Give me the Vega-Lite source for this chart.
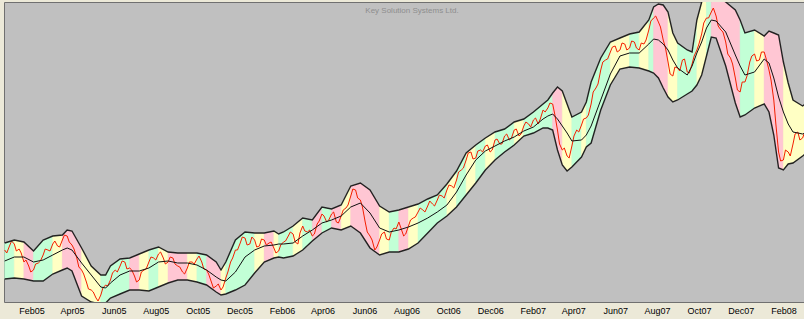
{
"$schema": "https://vega.github.io/schema/vega-lite/v6.json",
"width": 800, "height": 300,
"autosize": {"type": "none"},
"padding": {"left": 4, "top": 2, "right": 0, "bottom": 17},
"background": "#ECE9D8",
"title": {"text": "Key Solution Systems Ltd.", "offset": -13, "fontSize": 8, "font": "Liberation Sans", "fontWeight": "normal", "color": "#8E8E8E", "dx": 8},
"config": {"view": {"fill": "#C0C0C0", "stroke": "#707070", "strokeWidth": 1}},
"datasets": {
"band": [
{"d":"2004-12-24","h":59,"m":41,"l":23,"s":0,"c":"G"},
{"d":"2005-01-07","h":62,"m":45,"l":24,"s":0,"c":"G"},
{"d":"2005-01-07","h":62,"m":45,"l":24,"s":1,"c":"Y"},
{"d":"2005-01-21","h":60,"m":45,"l":23,"s":1,"c":"Y"},
{"d":"2005-01-21","h":60,"m":45,"l":23,"s":2,"c":"P"},
{"d":"2005-02-04","h":51,"m":40,"l":21,"s":2,"c":"P"},
{"d":"2005-02-04","h":51,"m":40,"l":21,"s":3,"c":"G"},
{"d":"2005-02-18","h":62,"m":42,"l":21,"s":3,"c":"G"},
{"d":"2005-03-04","h":66,"m":47,"l":28,"s":3,"c":"G"},
{"d":"2005-03-04","h":66,"m":47,"l":28,"s":4,"c":"Y"},
{"d":"2005-03-18","h":67,"m":52,"l":32,"s":4,"c":"Y"},
{"d":"2005-03-18","h":67,"m":52,"l":32,"s":5,"c":"P"},
{"d":"2005-03-25","h":72,"m":54,"l":34,"s":5,"c":"P"},
{"d":"2005-04-01","h":71,"m":52,"l":31,"s":5,"c":"P"},
{"d":"2005-04-15","h":54,"m":39,"l":6,"s":5,"c":"P"},
{"d":"2005-04-15","h":54,"m":39,"l":6,"s":6,"c":"Y"},
{"d":"2005-04-29","h":36,"m":27,"l":0,"s":6,"c":"Y"},
{"d":"2005-05-13","h":27,"m":15,"l":-2,"s":6,"c":"Y"},
{"d":"2005-05-13","h":27,"m":15,"l":-2,"s":7,"c":"G"},
{"d":"2005-05-20","h":27,"m":14,"l":-1,"s":7,"c":"G"},
{"d":"2005-05-27","h":36,"m":19,"l":4,"s":7,"c":"G"},
{"d":"2005-06-10","h":43,"m":27,"l":8,"s":7,"c":"G"},
{"d":"2005-06-24","h":44,"m":31,"l":12,"s":7,"c":"G"},
{"d":"2005-06-24","h":44,"m":31,"l":12,"s":8,"c":"P"},
{"d":"2005-07-08","h":48,"m":31,"l":12,"s":8,"c":"P"},
{"d":"2005-07-08","h":48,"m":31,"l":12,"s":9,"c":"Y"},
{"d":"2005-07-22","h":52,"m":34,"l":11,"s":9,"c":"Y"},
{"d":"2005-07-22","h":52,"m":34,"l":11,"s":10,"c":"G"},
{"d":"2005-08-05","h":55,"m":40,"l":15,"s":10,"c":"G"},
{"d":"2005-08-05","h":55,"m":40,"l":15,"s":11,"c":"Y"},
{"d":"2005-08-19","h":50,"m":41,"l":19,"s":11,"c":"Y"},
{"d":"2005-08-19","h":50,"m":41,"l":19,"s":12,"c":"P"},
{"d":"2005-09-02","h":49,"m":39,"l":22,"s":12,"c":"P"},
{"d":"2005-09-16","h":49,"m":39,"l":22,"s":12,"c":"P"},
{"d":"2005-09-16","h":49,"m":39,"l":22,"s":13,"c":"Y"},
{"d":"2005-09-30","h":49,"m":37,"l":20,"s":13,"c":"Y"},
{"d":"2005-09-30","h":49,"m":37,"l":20,"s":14,"c":"G"},
{"d":"2005-10-14","h":47,"m":32,"l":17,"s":14,"c":"G"},
{"d":"2005-10-14","h":47,"m":32,"l":17,"s":15,"c":"P"},
{"d":"2005-10-28","h":40,"m":25,"l":10,"s":15,"c":"P"},
{"d":"2005-11-04","h":32,"m":22,"l":7,"s":15,"c":"P"},
{"d":"2005-11-04","h":32,"m":22,"l":7,"s":16,"c":"Y"},
{"d":"2005-11-11","h":40,"m":21,"l":8,"s":16,"c":"Y"},
{"d":"2005-11-11","h":40,"m":21,"l":8,"s":17,"c":"G"},
{"d":"2005-11-25","h":62,"m":30,"l":12,"s":17,"c":"G"},
{"d":"2005-12-09","h":70,"m":45,"l":17,"s":17,"c":"G"},
{"d":"2005-12-23","h":69,"m":52,"l":29,"s":17,"c":"G"},
{"d":"2005-12-23","h":69,"m":52,"l":29,"s":18,"c":"Y"},
{"d":"2006-01-06","h":69,"m":56,"l":40,"s":18,"c":"Y"},
{"d":"2006-01-06","h":69,"m":56,"l":40,"s":19,"c":"P"},
{"d":"2006-01-20","h":71,"m":57,"l":44,"s":19,"c":"P"},
{"d":"2006-01-20","h":71,"m":57,"l":44,"s":20,"c":"Y"},
{"d":"2006-01-27","h":68,"m":58,"l":45,"s":20,"c":"Y"},
{"d":"2006-01-27","h":68,"m":58,"l":45,"s":21,"c":"G"},
{"d":"2006-02-03","h":70,"m":58,"l":44,"s":21,"c":"G"},
{"d":"2006-02-17","h":76,"m":59,"l":46,"s":21,"c":"G"},
{"d":"2006-02-17","h":76,"m":59,"l":46,"s":22,"c":"Y"},
{"d":"2006-03-03","h":84,"m":66,"l":52,"s":22,"c":"Y"},
{"d":"2006-03-03","h":84,"m":66,"l":52,"s":23,"c":"G"},
{"d":"2006-03-17","h":82,"m":72,"l":61,"s":23,"c":"G"},
{"d":"2006-03-17","h":82,"m":72,"l":61,"s":24,"c":"P"},
{"d":"2006-03-31","h":95,"m":79,"l":69,"s":24,"c":"P"},
{"d":"2006-03-31","h":95,"m":79,"l":69,"s":25,"c":"G"},
{"d":"2006-04-14","h":93,"m":82,"l":74,"s":25,"c":"G"},
{"d":"2006-04-14","h":93,"m":82,"l":74,"s":26,"c":"P"},
{"d":"2006-04-28","h":97,"m":86,"l":72,"s":26,"c":"P"},
{"d":"2006-04-28","h":97,"m":86,"l":72,"s":27,"c":"Y"},
{"d":"2006-05-12","h":116,"m":95,"l":76,"s":27,"c":"Y"},
{"d":"2006-05-12","h":116,"m":95,"l":76,"s":28,"c":"P"},
{"d":"2006-05-26","h":119,"m":99,"l":69,"s":28,"c":"P"},
{"d":"2006-06-09","h":112,"m":89,"l":54,"s":28,"c":"P"},
{"d":"2006-06-23","h":96,"m":74,"l":47,"s":28,"c":"P"},
{"d":"2006-06-23","h":96,"m":74,"l":47,"s":29,"c":"Y"},
{"d":"2006-07-07","h":90,"m":70,"l":50,"s":29,"c":"Y"},
{"d":"2006-07-07","h":90,"m":70,"l":50,"s":30,"c":"G"},
{"d":"2006-07-21","h":92,"m":72,"l":50,"s":30,"c":"G"},
{"d":"2006-07-21","h":92,"m":72,"l":50,"s":31,"c":"P"},
{"d":"2006-08-04","h":95,"m":75,"l":53,"s":31,"c":"P"},
{"d":"2006-08-04","h":95,"m":75,"l":53,"s":32,"c":"Y"},
{"d":"2006-08-18","h":98,"m":79,"l":59,"s":32,"c":"Y"},
{"d":"2006-08-18","h":98,"m":79,"l":59,"s":33,"c":"G"},
{"d":"2006-09-01","h":103,"m":84,"l":69,"s":33,"c":"G"},
{"d":"2006-09-15","h":107,"m":90,"l":79,"s":33,"c":"G"},
{"d":"2006-09-29","h":118,"m":97,"l":86,"s":33,"c":"G"},
{"d":"2006-09-29","h":118,"m":97,"l":86,"s":34,"c":"Y"},
{"d":"2006-10-13","h":131,"m":110,"l":95,"s":34,"c":"Y"},
{"d":"2006-10-13","h":131,"m":110,"l":95,"s":35,"c":"G"},
{"d":"2006-10-27","h":149,"m":127,"l":107,"s":35,"c":"G"},
{"d":"2006-10-27","h":149,"m":127,"l":107,"s":36,"c":"Y"},
{"d":"2006-11-10","h":157,"m":142,"l":119,"s":36,"c":"Y"},
{"d":"2006-11-10","h":157,"m":142,"l":119,"s":37,"c":"G"},
{"d":"2006-11-24","h":164,"m":151,"l":132,"s":37,"c":"G"},
{"d":"2006-11-24","h":164,"m":151,"l":132,"s":38,"c":"Y"},
{"d":"2006-12-08","h":170,"m":156,"l":142,"s":38,"c":"Y"},
{"d":"2006-12-08","h":170,"m":156,"l":142,"s":39,"c":"G"},
{"d":"2006-12-22","h":173,"m":161,"l":150,"s":39,"c":"G"},
{"d":"2007-01-05","h":180,"m":165,"l":157,"s":39,"c":"G"},
{"d":"2007-01-05","h":180,"m":165,"l":157,"s":40,"c":"Y"},
{"d":"2007-01-19","h":183,"m":171,"l":166,"s":40,"c":"Y"},
{"d":"2007-01-19","h":183,"m":171,"l":166,"s":41,"c":"G"},
{"d":"2007-02-02","h":190,"m":175,"l":169,"s":41,"c":"G"},
{"d":"2007-02-16","h":198,"m":183,"l":174,"s":41,"c":"G"},
{"d":"2007-02-23","h":202,"m":186,"l":174,"s":41,"c":"G"},
{"d":"2007-03-02","h":209,"m":188,"l":172,"s":41,"c":"G"},
{"d":"2007-03-02","h":209,"m":188,"l":172,"s":42,"c":"P"},
{"d":"2007-03-09","h":215,"m":183,"l":152,"s":42,"c":"P"},
{"d":"2007-03-16","h":211,"m":176,"l":137,"s":42,"c":"P"},
{"d":"2007-03-16","h":211,"m":176,"l":137,"s":43,"c":"Y"},
{"d":"2007-03-23","h":198,"m":169,"l":131,"s":43,"c":"Y"},
{"d":"2007-03-30","h":185,"m":161,"l":135,"s":43,"c":"Y"},
{"d":"2007-03-30","h":185,"m":161,"l":135,"s":44,"c":"G"},
{"d":"2007-04-13","h":190,"m":162,"l":145,"s":44,"c":"G"},
{"d":"2007-04-13","h":190,"m":162,"l":145,"s":45,"c":"Y"},
{"d":"2007-04-20","h":200,"m":167,"l":155,"s":45,"c":"Y"},
{"d":"2007-04-20","h":200,"m":167,"l":155,"s":46,"c":"G"},
{"d":"2007-04-27","h":220,"m":176,"l":159,"s":46,"c":"G"},
{"d":"2007-05-11","h":244,"m":202,"l":192,"s":46,"c":"G"},
{"d":"2007-05-25","h":260,"m":228,"l":217,"s":46,"c":"G"},
{"d":"2007-05-25","h":260,"m":228,"l":217,"s":47,"c":"Y"},
{"d":"2007-06-08","h":264,"m":246,"l":233,"s":47,"c":"Y"},
{"d":"2007-06-22","h":268,"m":249,"l":235,"s":47,"c":"Y"},
{"d":"2007-06-22","h":268,"m":249,"l":235,"s":48,"c":"G"},
{"d":"2007-07-06","h":270,"m":249,"l":234,"s":48,"c":"G"},
{"d":"2007-07-06","h":270,"m":249,"l":234,"s":49,"c":"Y"},
{"d":"2007-07-20","h":282,"m":258,"l":231,"s":49,"c":"Y"},
{"d":"2007-07-20","h":282,"m":258,"l":231,"s":50,"c":"G"},
{"d":"2007-07-27","h":295,"m":263,"l":229,"s":50,"c":"G"},
{"d":"2007-07-27","h":295,"m":263,"l":229,"s":51,"c":"P"},
{"d":"2007-08-03","h":298,"m":262,"l":224,"s":51,"c":"P"},
{"d":"2007-08-10","h":297,"m":258,"l":214,"s":51,"c":"P"},
{"d":"2007-08-17","h":290,"m":252,"l":205,"s":51,"c":"P"},
{"d":"2007-08-17","h":290,"m":252,"l":205,"s":52,"c":"Y"},
{"d":"2007-08-24","h":269,"m":242,"l":200,"s":52,"c":"Y"},
{"d":"2007-08-31","h":259,"m":234,"l":202,"s":52,"c":"Y"},
{"d":"2007-08-31","h":259,"m":234,"l":202,"s":53,"c":"G"},
{"d":"2007-09-14","h":252,"m":227,"l":208,"s":53,"c":"G"},
{"d":"2007-09-21","h":250,"m":236,"l":211,"s":53,"c":"G"},
{"d":"2007-09-28","h":282,"m":249,"l":217,"s":53,"c":"G"},
{"d":"2007-09-28","h":282,"m":249,"l":217,"s":54,"c":"Y"},
{"d":"2007-10-05","h":300,"m":260,"l":227,"s":54,"c":"Y"},
{"d":"2007-10-12","h":306,"m":274,"l":246,"s":54,"c":"Y"},
{"d":"2007-10-12","h":306,"m":274,"l":246,"s":55,"c":"G"},
{"d":"2007-10-19","h":307,"m":282,"l":265,"s":55,"c":"G"},
{"d":"2007-10-19","h":307,"m":282,"l":265,"s":56,"c":"P"},
{"d":"2007-10-26","h":306,"m":281,"l":264,"s":56,"c":"P"},
{"d":"2007-11-09","h":300,"m":270,"l":236,"s":56,"c":"P"},
{"d":"2007-11-23","h":292,"m":247,"l":199,"s":56,"c":"P"},
{"d":"2007-11-30","h":282,"m":236,"l":185,"s":56,"c":"P"},
{"d":"2007-11-30","h":282,"m":236,"l":185,"s":57,"c":"G"},
{"d":"2007-12-07","h":269,"m":227,"l":187,"s":57,"c":"G"},
{"d":"2007-12-21","h":272,"m":230,"l":194,"s":57,"c":"G"},
{"d":"2007-12-21","h":272,"m":230,"l":194,"s":58,"c":"Y"},
{"d":"2008-01-04","h":266,"m":243,"l":198,"s":58,"c":"Y"},
{"d":"2008-01-04","h":266,"m":243,"l":198,"s":59,"c":"P"},
{"d":"2008-01-11","h":271,"m":239,"l":190,"s":59,"c":"P"},
{"d":"2008-01-18","h":269,"m":224,"l":167,"s":59,"c":"P"},
{"d":"2008-01-25","h":267,"m":205,"l":134,"s":59,"c":"P"},
{"d":"2008-02-01","h":240,"m":190,"l":132,"s":59,"c":"P"},
{"d":"2008-02-01","h":240,"m":190,"l":132,"s":60,"c":"Y"},
{"d":"2008-02-08","h":219,"m":178,"l":138,"s":60,"c":"Y"},
{"d":"2008-02-15","h":202,"m":170,"l":139,"s":60,"c":"Y"},
{"d":"2008-02-29","h":196,"m":168,"l":146,"s":60,"c":"Y"},
{"d":"2008-03-07","h":200,"m":170,"l":150,"s":60,"c":"Y"}
],
"px": [
{"d":"2004-12-24","p":52},{"d":"2004-12-31","p":56},{"d":"2005-01-07","p":58},{"d":"2005-01-14","p":53},
{"d":"2005-01-21","p":40},{"d":"2005-01-28","p":36},{"d":"2005-02-04","p":32},{"d":"2005-02-11","p":39},
{"d":"2005-02-18","p":47},{"d":"2005-02-25","p":52},{"d":"2005-03-04","p":58},{"d":"2005-03-11","p":56},
{"d":"2005-03-18","p":62},{"d":"2005-03-25","p":66},{"d":"2005-04-01","p":57},{"d":"2005-04-08","p":44},
{"d":"2005-04-15","p":32},{"d":"2005-04-22","p":20},{"d":"2005-04-29","p":12},{"d":"2005-05-06","p":4},
{"d":"2005-05-13","p":7},{"d":"2005-05-20","p":17},{"d":"2005-05-27","p":22},{"d":"2005-06-03","p":32},
{"d":"2005-06-10","p":36},{"d":"2005-06-17","p":40},{"d":"2005-06-24","p":34},{"d":"2005-07-01","p":26},
{"d":"2005-07-08","p":22},{"d":"2005-07-15","p":32},{"d":"2005-07-22","p":40},{"d":"2005-07-29","p":44},
{"d":"2005-08-05","p":48},{"d":"2005-08-12","p":44},{"d":"2005-08-19","p":40},{"d":"2005-08-26","p":44},
{"d":"2005-09-02","p":36},{"d":"2005-09-09","p":30},{"d":"2005-09-16","p":34},{"d":"2005-09-23","p":40},
{"d":"2005-09-30","p":43},{"d":"2005-10-07","p":40},{"d":"2005-10-14","p":32},{"d":"2005-10-21","p":20},
{"d":"2005-10-28","p":16},{"d":"2005-11-04","p":12},{"d":"2005-11-11","p":24},{"d":"2005-11-18","p":40},
{"d":"2005-11-25","p":52},{"d":"2005-12-02","p":59},{"d":"2005-12-09","p":64},{"d":"2005-12-16","p":58},
{"d":"2005-12-23","p":62},{"d":"2005-12-30","p":56},{"d":"2006-01-06","p":62},{"d":"2006-01-13","p":59},
{"d":"2006-01-20","p":54},{"d":"2006-01-27","p":51},{"d":"2006-02-03","p":60},{"d":"2006-02-10","p":66},
{"d":"2006-02-17","p":68},{"d":"2006-02-24","p":58},{"d":"2006-03-03","p":76},{"d":"2006-03-10","p":70},
{"d":"2006-03-17","p":66},{"d":"2006-03-24","p":78},{"d":"2006-03-31","p":88},{"d":"2006-04-07","p":80},
{"d":"2006-04-14","p":88},{"d":"2006-04-21","p":80},{"d":"2006-04-28","p":86},{"d":"2006-05-05","p":94},
{"d":"2006-05-12","p":106},{"d":"2006-05-19","p":112},{"d":"2006-05-26","p":102},{"d":"2006-06-02","p":80},
{"d":"2006-06-09","p":66},{"d":"2006-06-16","p":52},{"d":"2006-06-23","p":62},{"d":"2006-06-30","p":70},
{"d":"2006-07-07","p":62},{"d":"2006-07-14","p":74},{"d":"2006-07-21","p":80},{"d":"2006-07-28","p":66},
{"d":"2006-08-04","p":76},{"d":"2006-08-11","p":84},{"d":"2006-08-18","p":90},{"d":"2006-08-25","p":92},
{"d":"2006-09-01","p":96},{"d":"2006-09-08","p":98},{"d":"2006-09-15","p":102},{"d":"2006-09-22","p":106},
{"d":"2006-09-29","p":112},{"d":"2006-10-06","p":116},{"d":"2006-10-13","p":122},{"d":"2006-10-20","p":132},
{"d":"2006-10-27","p":142},{"d":"2006-11-03","p":150},{"d":"2006-11-10","p":144},{"d":"2006-11-17","p":152},
{"d":"2006-11-24","p":156},{"d":"2006-12-01","p":150},{"d":"2006-12-08","p":162},{"d":"2006-12-15","p":158},
{"d":"2006-12-22","p":166},{"d":"2006-12-29","p":162},{"d":"2007-01-05","p":172},{"d":"2007-01-12","p":166},
{"d":"2007-01-19","p":176},{"d":"2007-01-26","p":178},{"d":"2007-02-02","p":182},{"d":"2007-02-09","p":178},
{"d":"2007-02-16","p":192},{"d":"2007-02-23","p":194},{"d":"2007-03-02","p":198},{"d":"2007-03-09","p":172},
{"d":"2007-03-16","p":152},{"d":"2007-03-23","p":146},{"d":"2007-03-30","p":156},{"d":"2007-04-06","p":172},
{"d":"2007-04-13","p":177},{"d":"2007-04-20","p":184},{"d":"2007-04-27","p":198},{"d":"2007-05-04","p":214},
{"d":"2007-05-11","p":232},{"d":"2007-05-18","p":242},{"d":"2007-05-25","p":250},{"d":"2007-06-01","p":256},
{"d":"2007-06-08","p":252},{"d":"2007-06-15","p":258},{"d":"2007-06-22","p":254},{"d":"2007-06-29","p":260},
{"d":"2007-07-06","p":252},{"d":"2007-07-13","p":258},{"d":"2007-07-20","p":272},{"d":"2007-07-27","p":284},
{"d":"2007-08-03","p":280},{"d":"2007-08-10","p":262},{"d":"2007-08-17","p":240},{"d":"2007-08-24","p":226},
{"d":"2007-08-31","p":234},{"d":"2007-09-07","p":242},{"d":"2007-09-14","p":230},{"d":"2007-09-21","p":238},
{"d":"2007-09-28","p":252},{"d":"2007-10-05","p":268},{"d":"2007-10-12","p":284},{"d":"2007-10-19","p":290},
{"d":"2007-10-26","p":286},{"d":"2007-11-02","p":272},{"d":"2007-11-09","p":260},{"d":"2007-11-16","p":244},
{"d":"2007-11-23","p":224},{"d":"2007-11-30","p":210},{"d":"2007-12-07","p":220},{"d":"2007-12-14","p":240},
{"d":"2007-12-21","p":248},{"d":"2007-12-28","p":242},{"d":"2008-01-04","p":250},{"d":"2008-01-11","p":232},
{"d":"2008-01-18","p":202},{"d":"2008-01-25","p":150},{"d":"2008-02-01","p":142},{"d":"2008-02-08","p":150},
{"d":"2008-02-15","p":158},{"d":"2008-02-22","p":170},{"d":"2008-02-29","p":164},{"d":"2008-03-07","p":168},
{"d":"2004-12-27","p":49},{"d":"2005-01-03","p":61},{"d":"2005-01-10","p":51},{"d":"2005-01-17","p":49},
{"d":"2005-01-24","p":42},{"d":"2005-01-31","p":30},{"d":"2005-02-07","p":38},{"d":"2005-02-14","p":41},
{"d":"2005-02-21","p":53},{"d":"2005-02-28","p":51},{"d":"2005-03-07","p":61},{"d":"2005-03-14","p":55},
{"d":"2005-03-21","p":67},{"d":"2005-03-28","p":60},{"d":"2005-04-04","p":53},{"d":"2005-04-11","p":35},
{"d":"2005-04-18","p":28},{"d":"2005-04-25","p":13},{"d":"2005-05-02","p":10},{"d":"2005-05-09","p":1},
{"d":"2005-05-16","p":14},{"d":"2005-05-23","p":16},{"d":"2005-05-30","p":29},{"d":"2005-06-06","p":30},
{"d":"2005-06-13","p":41},{"d":"2005-06-20","p":33},{"d":"2005-06-27","p":32},{"d":"2005-07-04","p":20},
{"d":"2005-07-11","p":30},{"d":"2005-07-18","p":33},{"d":"2005-07-25","p":45},{"d":"2005-08-01","p":42},
{"d":"2005-08-08","p":50},{"d":"2005-08-15","p":38},{"d":"2005-08-22","p":45},{"d":"2005-08-29","p":38},
{"d":"2005-09-05","p":35},{"d":"2005-09-12","p":28},{"d":"2005-09-19","p":40},{"d":"2005-09-26","p":38},
{"d":"2005-10-03","p":46},{"d":"2005-10-10","p":33},{"d":"2005-10-17","p":28},{"d":"2005-10-24","p":14},
{"d":"2005-10-31","p":18},{"d":"2005-11-07","p":15},{"d":"2005-11-14","p":30},{"d":"2005-11-21","p":44},
{"d":"2005-11-28","p":52},{"d":"2005-12-05","p":65},{"d":"2005-12-12","p":57},{"d":"2005-12-19","p":65},
{"d":"2005-12-26","p":55},{"d":"2006-01-02","p":63},{"d":"2006-01-09","p":57},{"d":"2006-01-16","p":60},
{"d":"2006-01-23","p":49},{"d":"2006-01-30","p":57},{"d":"2006-02-06","p":61},{"d":"2006-02-13","p":70},
{"d":"2006-02-20","p":60},{"d":"2006-02-27","p":69},{"d":"2006-03-06","p":71},{"d":"2006-03-13","p":72},
{"d":"2006-03-20","p":68},{"d":"2006-03-27","p":81},{"d":"2006-04-03","p":86},{"d":"2006-04-10","p":82},
{"d":"2006-04-17","p":90},{"d":"2006-04-24","p":79},{"d":"2006-05-01","p":92},{"d":"2006-05-08","p":97},
{"d":"2006-05-15","p":113},{"d":"2006-05-22","p":104},{"d":"2006-05-29","p":95},{"d":"2006-06-05","p":70},
{"d":"2006-06-12","p":62},{"d":"2006-06-19","p":55},{"d":"2006-06-26","p":68},{"d":"2006-07-03","p":63},
{"d":"2006-07-10","p":70},{"d":"2006-07-17","p":73},{"d":"2006-07-24","p":74},{"d":"2006-07-31","p":68},
{"d":"2006-08-07","p":82},{"d":"2006-08-14","p":85},{"d":"2006-08-21","p":94},{"d":"2006-08-28","p":90},
{"d":"2006-09-04","p":101},{"d":"2006-09-11","p":96},{"d":"2006-09-18","p":107},{"d":"2006-09-25","p":104},
{"d":"2006-10-02","p":117},{"d":"2006-10-09","p":114},{"d":"2006-10-16","p":130},{"d":"2006-10-23","p":134},
{"d":"2006-10-30","p":149},{"d":"2006-11-06","p":143},{"d":"2006-11-13","p":151},{"d":"2006-11-20","p":150},
{"d":"2006-11-27","p":157},{"d":"2006-12-04","p":152},{"d":"2006-12-11","p":163},{"d":"2006-12-18","p":158},
{"d":"2006-12-25","p":168},{"d":"2007-01-01","p":164},{"d":"2007-01-08","p":173},{"d":"2007-01-15","p":168},
{"d":"2007-01-22","p":180},{"d":"2007-01-29","p":175},{"d":"2007-02-05","p":184},{"d":"2007-02-12","p":183},
{"d":"2007-02-19","p":190},{"d":"2007-02-26","p":199},{"d":"2007-03-05","p":188},{"d":"2007-03-12","p":158},
{"d":"2007-03-19","p":154},{"d":"2007-03-26","p":144},{"d":"2007-04-02","p":166},{"d":"2007-04-09","p":170},
{"d":"2007-04-16","p":183},{"d":"2007-04-23","p":187},{"d":"2007-04-30","p":210},{"d":"2007-05-07","p":218},
{"d":"2007-05-14","p":240},{"d":"2007-05-21","p":243},{"d":"2007-05-28","p":255},{"d":"2007-06-04","p":250},
{"d":"2007-06-11","p":259},{"d":"2007-06-18","p":252},{"d":"2007-06-25","p":261},{"d":"2007-07-02","p":254},
{"d":"2007-07-09","p":259},{"d":"2007-07-16","p":262},{"d":"2007-07-23","p":281},{"d":"2007-07-30","p":286},
{"d":"2007-08-06","p":275},{"d":"2007-08-13","p":255},{"d":"2007-08-20","p":228},{"d":"2007-08-27","p":235},
{"d":"2007-09-03","p":231},{"d":"2007-09-10","p":243},{"d":"2007-09-17","p":229},{"d":"2007-09-24","p":246},
{"d":"2007-10-01","p":258},{"d":"2007-10-08","p":279},{"d":"2007-10-15","p":284},{"d":"2007-10-22","p":294},
{"d":"2007-10-29","p":276},{"d":"2007-11-05","p":270},{"d":"2007-11-12","p":248},{"d":"2007-11-19","p":238},
{"d":"2007-11-26","p":212},{"d":"2007-12-03","p":220},{"d":"2007-12-10","p":226},{"d":"2007-12-17","p":246},
{"d":"2007-12-24","p":241},{"d":"2007-12-31","p":250},{"d":"2008-01-07","p":243},{"d":"2008-01-14","p":222},
{"d":"2008-01-21","p":178},{"d":"2008-01-28","p":141},{"d":"2008-02-04","p":152},{"d":"2008-02-11","p":146},
{"d":"2008-02-18","p":168},{"d":"2008-02-25","p":162},{"d":"2008-03-03","p":170}
]
},
"encoding": {
"x": {"field": "d", "type": "temporal",
"scale": {"type": "utc", "domain": [{"year": 2004, "month": 12, "date": 23, "utc": true}, {"year": 2008, "month": 3, "date": 2, "utc": true}]},
"axis": {"title": null, "labelExpr": "utcFormat(datum.value, '%b%y')", "domain": false, "ticks": false, "grid": false,
"labelFont": "Liberation Sans", "labelFontSize": 9, "labelColor": "#000000", "labelPadding": 4, "labelFlush": false, "labelOverlap": false,
"values": [
{"year":2005,"month":2,"date":1,"utc":true},{"year":2005,"month":4,"date":1,"utc":true},{"year":2005,"month":6,"date":1,"utc":true},
{"year":2005,"month":8,"date":1,"utc":true},{"year":2005,"month":10,"date":1,"utc":true},{"year":2005,"month":12,"date":1,"utc":true},
{"year":2006,"month":2,"date":1,"utc":true},{"year":2006,"month":4,"date":1,"utc":true},{"year":2006,"month":6,"date":1,"utc":true},
{"year":2006,"month":8,"date":1,"utc":true},{"year":2006,"month":10,"date":1,"utc":true},{"year":2006,"month":12,"date":1,"utc":true},
{"year":2007,"month":2,"date":1,"utc":true},{"year":2007,"month":4,"date":1,"utc":true},{"year":2007,"month":6,"date":1,"utc":true},
{"year":2007,"month":8,"date":1,"utc":true},{"year":2007,"month":10,"date":1,"utc":true},{"year":2007,"month":12,"date":1,"utc":true},
{"year":2008,"month":2,"date":1,"utc":true}]}}
},
"layer": [
{"data": {"name": "band"},
"mark": {"type": "area", "clip": true, "strokeWidth": 0.6},
"encoding": {
"y": {"field": "l", "type": "quantitative", "scale": {"domain": [0, 300], "nice": false, "zero": false}, "axis": null},
"y2": {"field": "h"},
"color": {"field": "c", "type": "nominal", "scale": {"domain": ["P", "Y", "G"], "range": ["#FFC6D3", "#FFFFC4", "#C2FFD6"]}, "legend": null},
"stroke": {"field": "c", "type": "nominal", "scale": {"domain": ["P", "Y", "G"], "range": ["#FFC6D3", "#FFFFC4", "#C2FFD6"]}, "legend": null},
"detail": {"field": "s", "type": "nominal"}}},
{"data": {"name": "px"},
"mark": {"type": "line", "clip": true, "color": "#F41E00", "strokeWidth": 1},
"encoding": {"y": {"field": "p", "type": "quantitative", "scale": {"domain": [0, 300], "nice": false, "zero": false}, "axis": null}}},
{"data": {"name": "band"},
"mark": {"type": "line", "clip": true, "color": "#111111", "strokeWidth": 1},
"encoding": {"y": {"field": "m", "type": "quantitative", "scale": {"domain": [0, 300], "nice": false, "zero": false}, "axis": null}}},
{"data": {"name": "band"},
"mark": {"type": "line", "clip": true, "color": "#222222", "strokeWidth": 1.4},
"encoding": {"y": {"field": "h", "type": "quantitative", "scale": {"domain": [0, 300], "nice": false, "zero": false}, "axis": null}}},
{"data": {"name": "band"},
"mark": {"type": "line", "clip": true, "color": "#222222", "strokeWidth": 1.4},
"encoding": {"y": {"field": "l", "type": "quantitative", "scale": {"domain": [0, 300], "nice": false, "zero": false}, "axis": null}}}
]
}
